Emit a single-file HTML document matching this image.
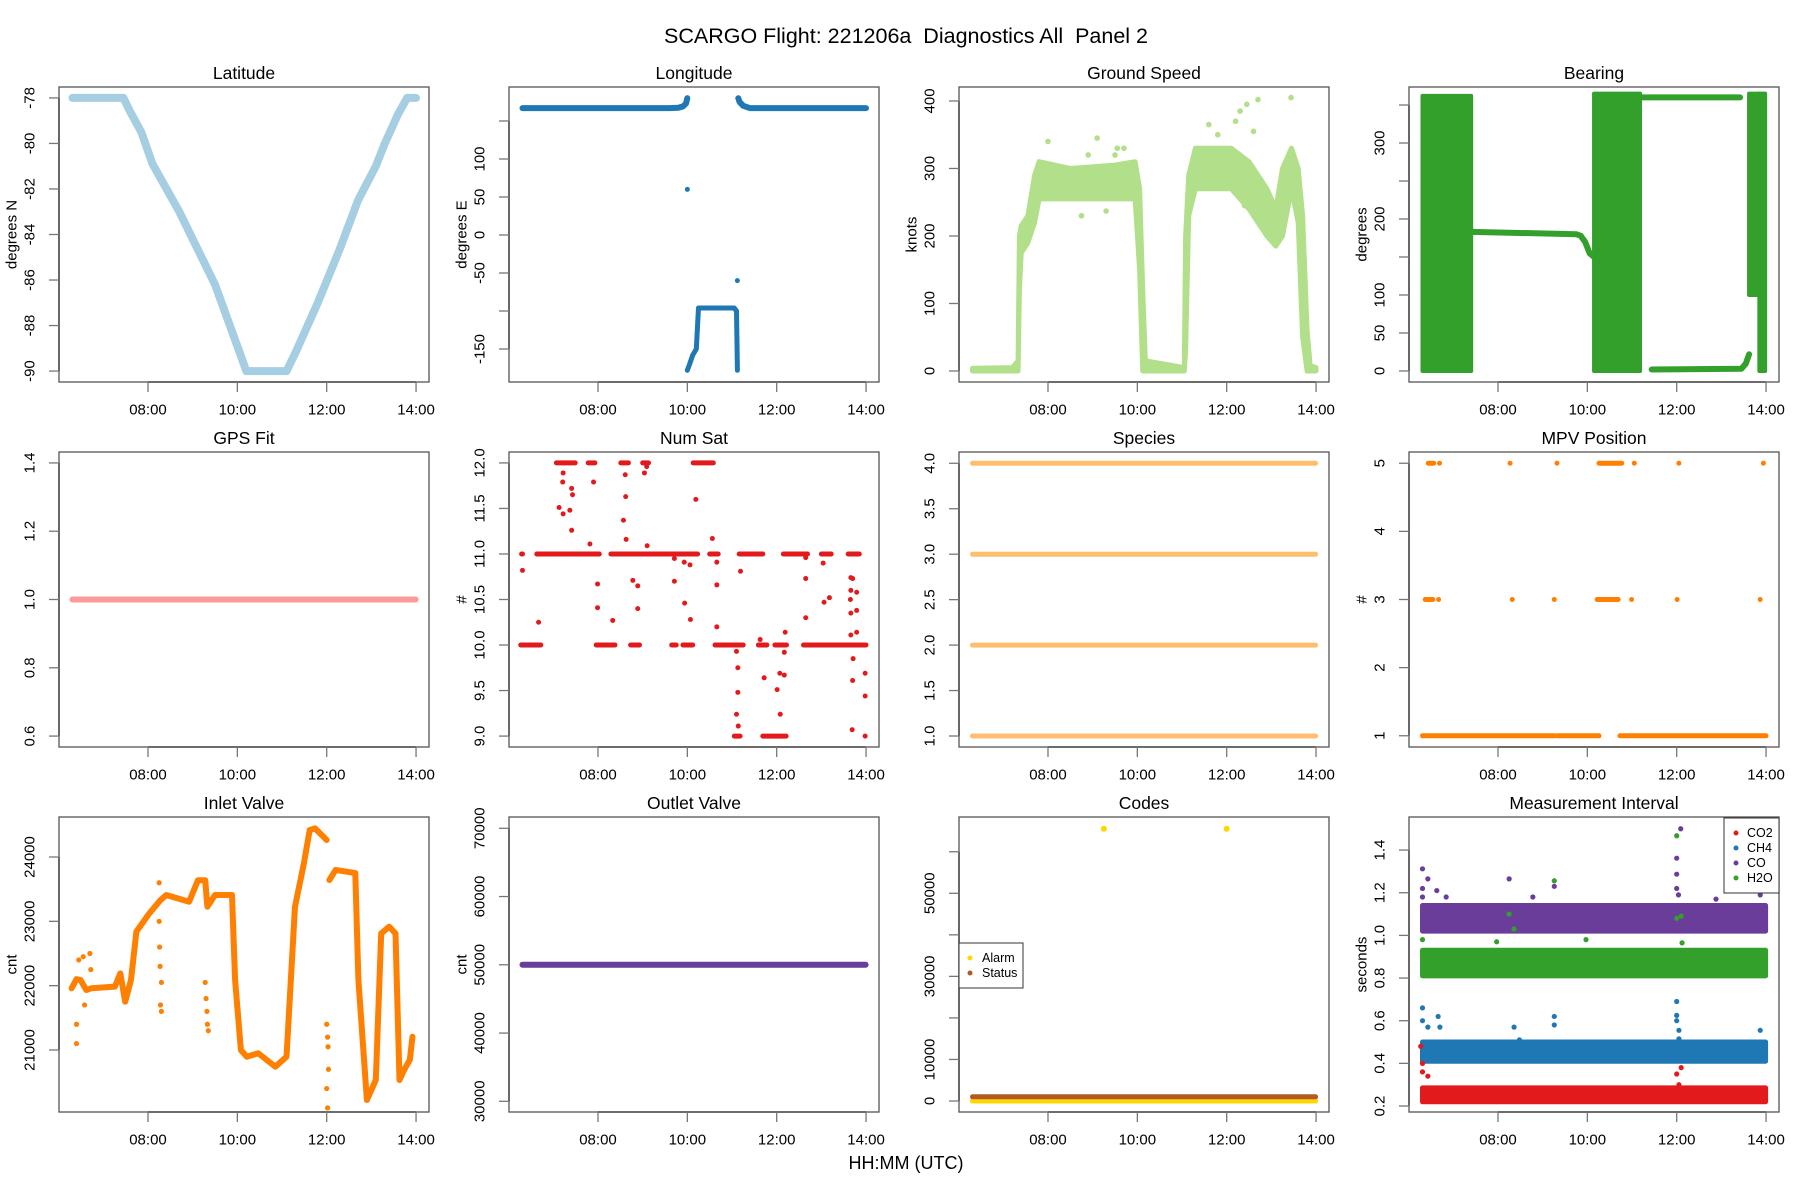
<!DOCTYPE html>
<html><head><meta charset="utf-8"><title>SCARGO Diagnostics</title>
<style>
html,body{margin:0;padding:0;background:#fff}
svg{display:block}
text{font-family:"Liberation Sans",Arial,sans-serif;fill:#000}
</style></head>
<body>
<svg id="chart" width="1800" height="1200" viewBox="0 0 1800 1200" xmlns="http://www.w3.org/2000/svg">
<rect x="0" y="0" width="1800" height="1200" fill="#fff"/>
<text x="906" y="36" font-size="21.5" text-anchor="middle" dominant-baseline="central" style="white-space:pre" xml:space="preserve">SCARGO Flight: 221206a  Diagnostics All  Panel 2</text>
<text x="906" y="1163" font-size="18" text-anchor="middle" dominant-baseline="central">HH:MM (UTC)</text>
</svg>
<script>
// ---------- data ----------
const xTickHours = [8, 10, 12, 14];
const xTickLabels = ["08:00", "10:00", "12:00", "14:00"];

const latT = [6.31, 7.45, 7.6, 7.85, 8.1, 8.7, 9.5, 10.0, 10.2, 11.1, 11.3, 11.8, 12.3, 12.7, 13.1, 13.3, 13.6, 13.8, 14.0];
const latV = [-78, -78, -78.6, -79.5, -80.9, -83, -86.2, -88.9, -90, -90, -89.2, -87, -84.6, -82.5, -81, -80, -78.7, -78, -78];

const lonAT = [6.31, 9.6, 9.8, 9.9, 9.97, 10.0];
const lonAV = [167, 167, 167.5, 169, 173, 180];
const lonBT = [10.0, 10.05, 10.12, 10.2, 10.25, 11.05, 11.1, 11.12];
const lonBV = [-178, -170, -158, -150, -96, -96, -100, -178];
const lonCT = [11.14, 11.17, 11.25, 11.4, 14.0];
const lonCV = [180, 175, 170, 167, 167];
const lonPtT = [10.0, 11.12];
const lonPtV = [60, -60];

const gsT  = [6.31, 7.2, 7.33, 7.36, 7.4, 7.55, 7.7, 7.8, 8.5, 9.5, 9.95, 10.05, 10.12, 10.18, 11.05, 11.08, 11.15, 11.3, 12.1, 12.5, 12.9, 13.1, 13.25, 13.45, 13.6, 13.7, 13.8, 13.87, 14.0];
const gsLo = [0, 0, 0, 120, 175, 190, 220, 255, 255, 255, 255, 150, 0, 0, 0, 30, 230, 270, 270, 240, 200, 185, 200, 270, 220, 50, 0, 0, 0];
const gsHi = [4, 5, 15, 200, 215, 230, 290, 310, 300, 305, 310, 270, 120, 15, 5, 200, 290, 330, 330, 310, 270, 240, 300, 330, 300, 230, 60, 8, 5];
const gsOutT = [8.0, 8.9, 9.1, 9.5, 9.55, 9.7, 8.75, 9.3, 12.2, 11.6, 11.8, 12.3, 12.45, 12.7, 13.1, 13.44, 12.6, 12.5, 12.4, 10.2];
const gsOutV = [340, 320, 345, 320, 330, 330, 230, 237, 370, 365, 350, 385, 395, 402, 250, 405, 355, 260, 245, 2];

const brgBlkStart = [6.31, 10.15, 13.62, 13.85];
const brgBlkEnd   = [7.4, 11.18, 13.85, 13.98];
const brgBlkLo    = [0, 0, 100, 0];
const brgBlkHi    = [362, 365, 365, 365];
const brgMidT = [7.4, 9.75, 9.85, 9.95, 10.05, 10.15];
const brgMidV = [183, 180, 178, 170, 155, 150];
const brgTopT = [11.18, 13.42];
const brgTopV = [360, 360];
const brgBotT = [11.44, 13.45, 13.55, 13.62];
const brgBotV = [2, 3, 10, 22];

const gpsT = [6.31, 13.99];
const gpsV = [1.0, 1.0];

const nsSegValue = [12,12,12,12,12, 11,11,11,11,11,11,11,11,11, 10,10,10,10,10,10,10,10,10, 9,9];
const nsSegStart = [7.07,7.78,8.51,9.0,10.13, 6.29,6.63,8.29,10.02,10.5,11.16,12.15,13.0,13.6, 6.27,7.96,8.73,9.65,9.9,10.62,11.59,11.96,12.6, 11.05,11.69];
const nsSegEnd   = [7.49,7.93,8.68,9.13,10.58, 6.31,8.03,9.99,10.23,10.69,11.69,12.69,13.22,13.85, 6.72,8.38,8.93,9.75,10.12,11.25,11.78,12.22,14.0, 11.18,12.21];
const nsPtT = [6.31,6.67,7.13,7.21,7.22,7.22,7.37,7.41,7.43,7.41,7.82,7.9,7.99,7.99,8.33,8.57,8.62,8.61,8.63,8.78,8.89,8.89,9.04,9.09,9.1,9.71,9.71,9.93,9.94,10.06,10.07,10.19,10.56,10.66,10.66,10.66,11.1,11.13,11.13,11.1,11.14,11.19,11.63,11.72,12.01,12.07,12.17,12.08,12.19,12.17,12.65,12.65,12.65,13.04,13.06,13.18,13.66,13.7,13.66,13.65,13.66,13.79,13.79,13.66,13.79,13.71,13.7,13.69,13.98,13.98,13.98];
const nsPtV = [10.82,10.25,11.51,11.79,11.89,11.44,11.48,11.72,11.65,11.26,11.11,11.79,10.67,10.41,10.27,11.37,11.63,11.87,11.16,10.71,10.65,10.40,11.89,11.96,11.09,10.95,10.70,10.91,10.46,10.88,10.28,11.6,11.17,10.91,10.66,10.2,9.93,9.75,9.48,9.24,9.11,10.81,10.06,9.64,9.51,9.69,9.67,9.24,10.14,9.92,10.96,10.73,10.30,10.9,10.47,10.52,10.74,10.73,10.6,10.5,10.35,10.58,10.38,10.11,10.14,9.85,9.61,9.07,9.69,9.44,9.0];

const speciesLevels = [1, 2, 3, 4];
const speciesStart = 6.31, speciesEnd = 13.99;

const mpvSegValue = [5,5,5,5,5,5,5,5, 3,3,3,3,3,3,3,3, 1,1,1];
const mpvSegStart = [6.44,6.69,8.27,9.32,10.26,11.05,12.05,13.94, 6.37,6.67,8.32,9.26,10.22,10.99,12.01,13.87, 6.31,9.32,10.73];
const mpvSegEnd   = [6.56,6.69,8.27,9.32,10.77,11.05,12.05,13.94, 6.54,6.67,8.32,9.26,10.69,10.99,12.01,13.87, 9.26,10.26,14.0];

const inletT = [6.29,6.4,6.49,6.62,6.74,7.26,7.38,7.49,7.62,7.74,8.03,8.28,8.41,8.92,9.12,9.28,9.33,9.5,9.88,9.95,10.08,10.21,10.47,10.85,11.1,11.29,11.49,11.62,11.74,12.0];
const inletV = [21959,22100,22088,21933,21960,21985,22190,21750,22090,22840,23124,23330,23410,23306,23640,23640,23228,23410,23410,22088,21000,20896,20948,20741,20896,23228,23901,24420,24445,24264];
const inlet2T = [12.06,12.2,12.64,12.71,12.9,13.1,13.22,13.4,13.54,13.63,13.73,13.86,13.92];
const inlet2V = [23642,23800,23750,22088,20222,20534,22813,22917,22813,20534,20689,20845,21207];
const inletOutT = [6.4,6.4,6.45,6.55,6.58,6.7,6.72,8.25,8.25,8.26,8.27,8.28,8.3,8.3,9.28,9.3,9.32,9.33,9.35,12.0,12.02,12.03,12.0,12.04,12.02];
const inletOutV = [21100,21400,22400,22450,21700,22500,22250,23600,23000,22600,22300,21700,21600,22050,22050,21800,21600,21400,21300,21400,21200,21050,20400,20700,20100];

const outletT = [6.31, 13.99];
const outletV = [50000, 50000];

const codeAlarmLevel = 0, codeStatusLevel = 1000;
const codeAlarmOutT = [9.25, 12.0];
const codeAlarmOutV = [65535, 65535];

const miNames = ["CO2", "CH4", "CO", "H2O"];
const miLo = [0.22, 0.41, 1.02, 0.81];
const miHi = [0.285, 0.50, 1.14, 0.93];
const miOutSeries = [2,2,2,2,2,2,2,2,2,2,2,2,2,2,2,2, 3,3,3,3,3,3,3,3,3,3, 1,1,1,1,1,1,1,1,1,1,1,1,1,1,1, 0,0,0,0,0,0,0];
const miOutT = [6.31,6.43,6.31,6.31,6.63,6.84,8.25,8.78,9.26,12.09,12.0,12.0,12.0,12.04,12.88,13.87, 6.31,8.25,8.36,9.26,7.97,9.97,12.0,12.0,12.1,12.12, 6.31,6.31,6.43,6.66,6.7,8.36,8.48,9.26,9.26,12.0,12.0,12.0,12.05,12.05,13.87, 6.31,6.31,6.43,6.27,12.0,12.1,12.05];
const miOutV = [1.312,1.265,1.22,1.18,1.21,1.18,1.265,1.18,1.23,1.5,1.362,1.287,1.22,1.19,1.17,1.19, 0.98,1.10,1.03,1.256,0.97,0.98,1.467,1.08,1.09,0.965, 0.66,0.6,0.57,0.62,0.57,0.57,0.51,0.62,0.58,0.69,0.625,0.6,0.555,0.515,0.555, 0.40,0.36,0.34,0.48,0.35,0.38,0.30];

// ---------- drawing ----------
const NS = "http://www.w3.org/2000/svg";
const svg = document.getElementById("chart");
const colL = [59, 509, 959, 1409], rowT = [87, 452, 817], PW = 370, PH = 295;
const X0 = 6.008, X1 = 14.29;
function mk(tag, attrs, parent) {
  const e = document.createElementNS(NS, tag);
  for (const k in attrs) e.setAttribute(k, attrs[k]);
  (parent || svg).appendChild(e);
  return e;
}
let clipN = 0;
function panel(key, col, row, title, ylab, y0, y1, yTicks, yLabels) {
  const L = colL[col], T = rowT[row];
  const g = mk("g", {});
  
  
  const sx = t => L + (t - X0) / (X1 - X0) * PW;
  const sy = v => T + PH - (v - y0) / (y1 - y0) * PH;
  const id = "clip" + (clipN++);
  const cp = mk("clipPath", {id: id}, g);
  mk("rect", {x: L, y: T, width: PW, height: PH}, cp);
  const plot = mk("g", {"clip-path": "url(#" + id + ")"}, g);
  
  
  const box = mk("rect", {x: L, y: T, width: PW, height: PH, fill: "none", stroke: "#555", "stroke-width": 1.3}, g);
  
  
  const tt = mk("text", {x: L + PW / 2, y: T - 14, "font-size": 17.5, "text-anchor": "middle", "dominant-baseline": "central"}, g);
  tt.textContent = title;
  
  
  const xa = mk("g", {}, g);
  
  
  mk("line", {x1: sx(xTickHours[0]), x2: sx(xTickHours[xTickHours.length - 1]), y1: T + PH, y2: T + PH, stroke: "#333", "stroke-width": 1.3}, xa);
  xTickHours.forEach((h, i) => {
    mk("line", {x1: sx(h), x2: sx(h), y1: T + PH, y2: T + PH + 10, stroke: "#777", "stroke-width": 1.3}, xa);
    const lt = mk("text", {x: sx(h), y: T + PH + 28, "font-size": 15, "text-anchor": "middle", "dominant-baseline": "central"}, xa);
    lt.textContent = xTickLabels[i];
    
    
  });
  const ya = mk("g", {}, g);
  
  
  mk("line", {x1: L, x2: L, y1: sy(yTicks[0]), y2: sy(yTicks[yTicks.length - 1]), stroke: "#333", "stroke-width": 1.3}, ya);
  yTicks.forEach((v, i) => {
    mk("line", {x1: L - 10, x2: L, y1: sy(v), y2: sy(v), stroke: "#777", "stroke-width": 1.3}, ya);
    if (yLabels[i] !== "") {
      const yt = mk("text", {x: L - 29, y: sy(v), "font-size": 15, "text-anchor": "middle", "dominant-baseline": "central", transform: "rotate(-90 " + (L - 29) + " " + sy(v) + ")"}, ya);
      yt.textContent = yLabels[i];
      
      
    }
  });
  if (ylab) {
    const cx = L - 47, cy = T + PH / 2;
    const yl = mk("text", {x: cx, y: cy, "font-size": 15, "text-anchor": "middle", "dominant-baseline": "central", transform: "rotate(-90 " + cx + " " + cy + ")"}, g);
    yl.textContent = ylab;
    
    
  }
  return {plot, sx, sy, g, L, T};
}
function line(p, ts, vs, color, w, name) {
  const d = ts.map((t, i) => (i ? "L" : "M") + p.sx(t).toFixed(1) + "," + p.sy(vs[i]).toFixed(1)).join("");
  const e = mk("path", {d: d, fill: "none", stroke: color, "stroke-width": w, "stroke-linecap": "round", "stroke-linejoin": "round"}, p.plot);
  
  
  return e;
}
function pts(p, ts, vs, color, r, name) {
  ts.forEach((t, i) => {
    const c = mk("circle", {cx: p.sx(t), cy: p.sy(vs[i]), r: r, fill: color}, p.plot);
    
    
  });
}
function band(p, ts, lo, hi, color, name) {
  let d = ts.map((t, i) => (i ? "L" : "M") + p.sx(t).toFixed(1) + "," + p.sy(hi[i]).toFixed(1)).join("");
  for (let i = ts.length - 1; i >= 0; i--) d += "L" + p.sx(ts[i]).toFixed(1) + "," + p.sy(lo[i]).toFixed(1);
  d += "Z";
  const e = mk("path", {d: d, fill: color, stroke: color, "stroke-width": 5, "stroke-linejoin": "round"}, p.plot);
  
  
}
function rng(a, b, s) { const r = []; for (let v = a; v <= b + 1e-9; v += s) r.push(+v.toFixed(4)); return r; }

let p = panel("latitude", 0, 0, "Latitude", "degrees N", -90.48, -77.52, rng(-90, -78, 2), ["-90","-88","-86","-84","-82","-80","-78"]);
line(p, latT, latV, "#a6cee3", 8, "latitude-series");

p = panel("longitude", 1, 0, "Longitude", "degrees E", -193.4, 194.7, [-150,-100,-50,0,50,100,150], ["-150","","-50","0","50","100",""]);
line(p, lonAT, lonAV, "#1f78b4", 6, "longitude-series-a");
line(p, lonBT, lonBV, "#1f78b4", 5, "longitude-series-b");
line(p, lonCT, lonCV, "#1f78b4", 6, "longitude-series-c");
pts(p, lonPtT, lonPtV, "#1f78b4", 2.5, "longitude-point");

p = panel("ground-speed", 2, 0, "Ground Speed", "knots", -16.3, 420.7, [0,100,200,300,400], ["0","100","200","300","400"]);
band(p, gsT, gsLo, gsHi, "#b2df8a", "ground-speed-series");
pts(p, gsOutT, gsOutV, "#b2df8a", 2.8, "ground-speed-point");

p = panel("bearing", 3, 0, "Bearing", "degrees", -14.5, 373.7, [0,50,100,150,200,250,300,350], ["0","50","100","","200","","300",""]);
brgBlkStart.forEach((s, i) => {
  const r = mk("rect", {x: p.sx(s), y: p.sy(brgBlkHi[i]), width: p.sx(brgBlkEnd[i]) - p.sx(s), height: p.sy(brgBlkLo[i]) - p.sy(brgBlkHi[i]), fill: "#33a02c", stroke: "#33a02c", "stroke-width": 4, "stroke-linejoin": "round"}, p.plot);
  
  
});
line(p, brgMidT, brgMidV, "#33a02c", 6, "bearing-mid-series");
line(p, brgTopT, brgTopV, "#33a02c", 6, "bearing-top-series");
line(p, brgBotT, brgBotV, "#33a02c", 6, "bearing-bottom-series");

p = panel("gps-fit", 0, 1, "GPS Fit", "", 0.568, 1.432, [0.6,0.8,1.0,1.2,1.4], ["0.6","0.8","1.0","1.2","1.4"]);
line(p, gpsT, gpsV, "#fb9a99", 6, "gps-fit-series");

p = panel("num-sat", 1, 1, "Num Sat", "#", 8.88, 12.12, rng(9, 12, 0.5), ["9.0","9.5","10.0","10.5","11.0","11.5","12.0"]);
nsSegValue.forEach((v, i) => line(p, [nsSegStart[i], nsSegEnd[i]], [v, v], "#e31a1c", 5, "num-sat-run"));
pts(p, nsPtT, nsPtV, "#e31a1c", 2.5, "num-sat-point");

p = panel("species", 2, 1, "Species", "", 0.879, 4.124, rng(1, 4, 0.5), ["1.0","1.5","2.0","2.5","3.0","3.5","4.0"]);
speciesLevels.forEach(v => line(p, [speciesStart, speciesEnd], [v, v], "#fdbf6f", 5, "species-level-" + v));

p = panel("mpv-position", 3, 1, "MPV Position", "#", 0.835, 5.165, [1,2,3,4,5], ["1","2","3","4","5"]);
mpvSegValue.forEach((v, i) => line(p, [mpvSegStart[i], mpvSegEnd[i]], [v, v], "#ff7f00", 5, "mpv-run"));

p = panel("inlet-valve", 0, 2, "Inlet Valve", "cnt", 20036, 24622, [21000,22000,23000,24000], ["21000","22000","23000","24000"]);
line(p, inletT, inletV, "#ff7f00", 6, "inlet-valve-series");
line(p, inlet2T, inlet2V, "#ff7f00", 6, "inlet-valve-series-2");
pts(p, inletOutT, inletOutV, "#ff7f00", 2.6, "inlet-valve-point");

p = panel("outlet-valve", 1, 2, "Outlet Valve", "cnt", 28432, 71656, [30000,40000,50000,60000,70000], ["30000","40000","50000","60000","70000"]);
line(p, outletT, outletV, "#6a3d9a", 6, "outlet-valve-series");

p = panel("codes", 2, 2, "Codes", "", -2648, 68366, [0,10000,20000,30000,40000,50000,60000], ["0","10000","","30000","","50000",""]);
line(p, [6.31, 13.99], [codeAlarmLevel, codeAlarmLevel], "#ffd700", 5, "codes-alarm-series");
line(p, [6.31, 13.99], [codeStatusLevel, codeStatusLevel], "#b15928", 5, "codes-status-series");
pts(p, codeAlarmOutT, codeAlarmOutV, "#ffd700", 3, "codes-alarm-point");
{
  const lg = mk("g", {}, p.g);
  
  
  mk("rect", {x: 959, y: 943, width: 64, height: 45, fill: "#fff", stroke: "#333", "stroke-width": 1}, lg);
  [["Alarm", "#ffd700"], ["Status", "#b15928"]].forEach((e, i) => {
    const it = mk("g", {}, lg);
    
    
    mk("circle", {cx: 970, cy: 958 + i * 15, r: 2.5, fill: e[1]}, it);
    const t = mk("text", {x: 982, y: 958 + i * 15, "font-size": 12.5, "dominant-baseline": "central"}, it);
    t.textContent = e[0];
  });
}

p = panel("measurement-interval", 3, 2, "Measurement Interval", "seconds", 0.172, 1.555, [0.2,0.4,0.6,0.8,1.0,1.2,1.4], ["0.2","0.4","0.6","0.8","1.0","1.2","1.4"]);
const miColors = ["#e31a1c", "#1f78b4", "#6a3d9a", "#33a02c"];
[2, 3, 1, 0].forEach(s => band(p, [6.31, 13.99], [miLo[s], miLo[s]], [miHi[s], miHi[s]], miColors[s], "mi-" + miNames[s].toLowerCase() + "-series"));
miOutT.forEach((t, i) => {
  const c = mk("circle", {cx: p.sx(t), cy: p.sy(miOutV[i]), r: 2.6, fill: miColors[miOutSeries[i]]}, p.plot);
  
  
});
{
  const lg = mk("g", {}, p.g);
  
  
  mk("rect", {x: 1724, y: 818, width: 55, height: 75, fill: "#fff", stroke: "#333", "stroke-width": 1}, lg);
  miNames.forEach((n, i) => {
    const it = mk("g", {}, lg);
    
    
    mk("circle", {cx: 1736, cy: 833 + i * 15, r: 2.5, fill: miColors[i]}, it);
    const t = mk("text", {x: 1747, y: 833 + i * 15, "font-size": 12.5, "dominant-baseline": "central"}, it);
    t.textContent = n;
  });
}
</script>
</body></html>
